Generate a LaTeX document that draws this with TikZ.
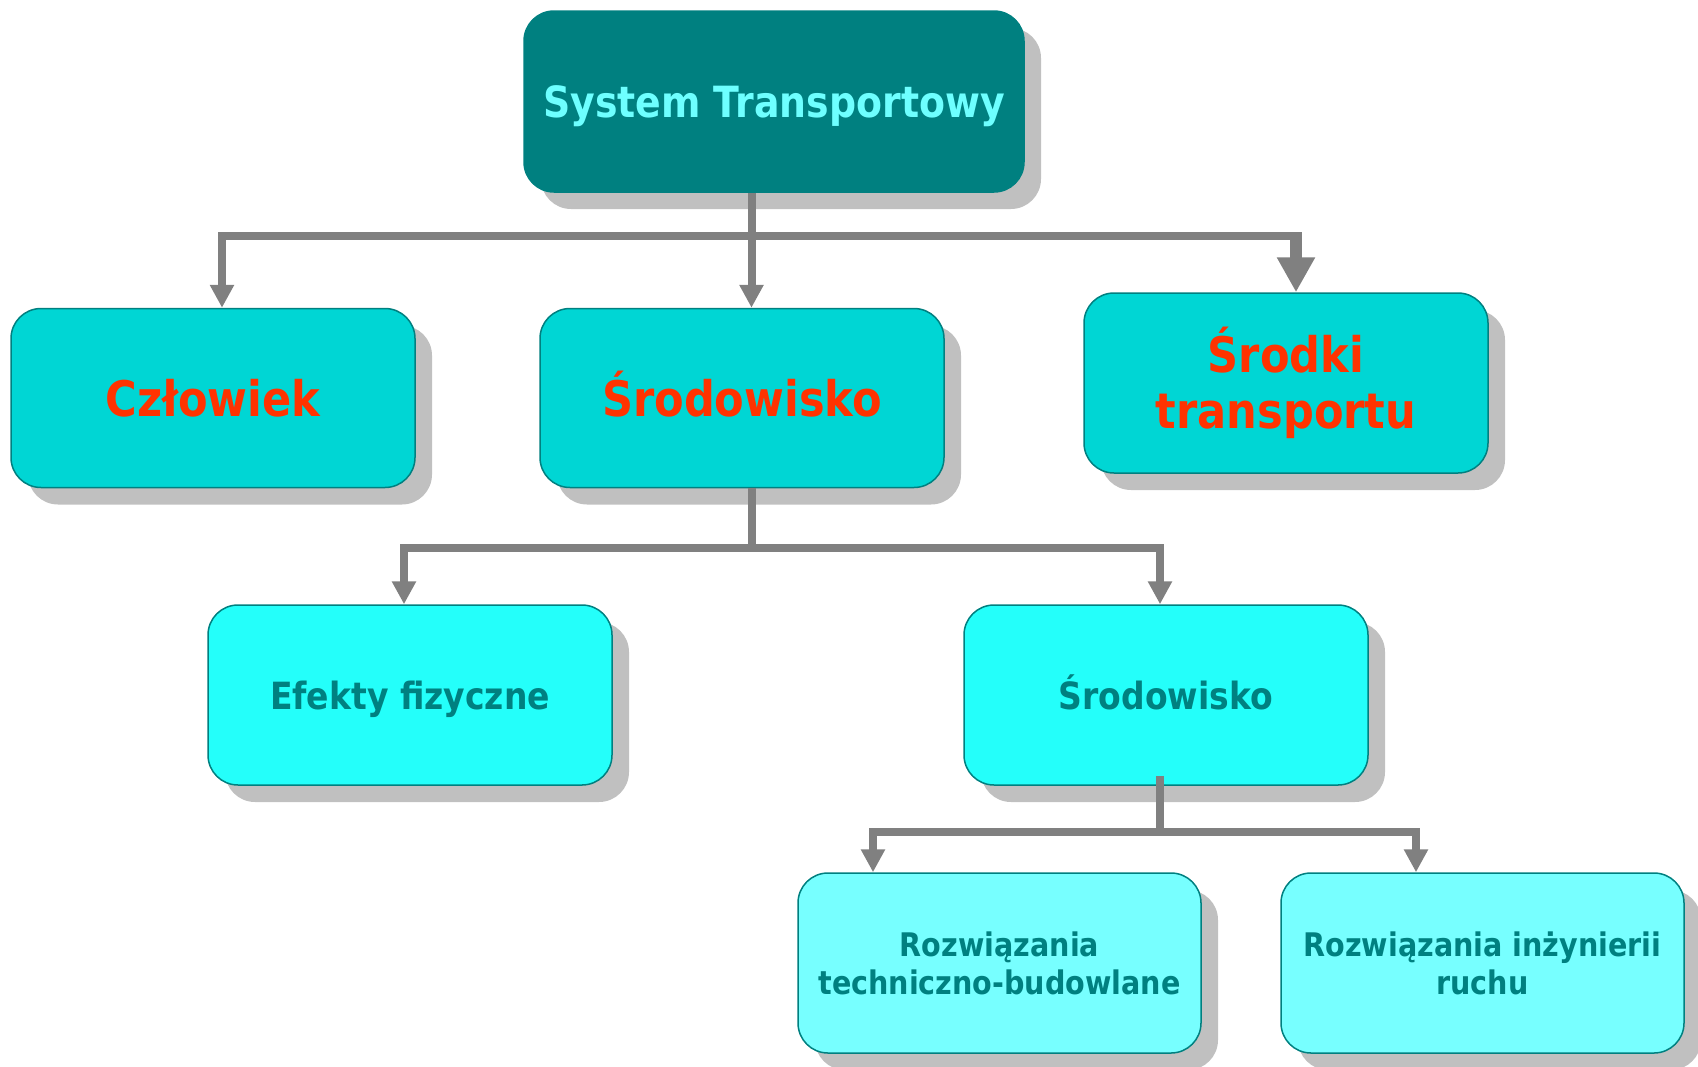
\documentclass[tikz,border=0pt]{standalone}
\usepackage{fontspec}
\setmainfont{DejaVu Sans}[FakeStretch=0.88]
\usetikzlibrary{arrows.meta,shadows}
\definecolor{teal0}{RGB}{0,128,128}
\definecolor{toptext}{RGB}{110,255,255}
\definecolor{fillA}{RGB}{0,214,212}
\definecolor{fillB}{RGB}{36,255,250}
\definecolor{fillC}{RGB}{119,255,255}
\definecolor{redtext}{RGB}{255,51,0}
\definecolor{shadowgray}{RGB}{192,192,192}
\definecolor{conncolor}{RGB}{128,128,128}
\tikzset{
  box/.style={rounded corners=30pt, draw=teal0, line width=1.5pt,
    minimum width=404pt, minimum height=179pt, inner sep=0pt, align=center,
    drop shadow={shadow xshift=17pt, shadow yshift=-17pt, fill=shadowgray, opacity=1}},
  topbox/.style={box, fill=teal0, minimum width=500pt, minimum height=181pt,
    text=toptext, font=\fontsize{43}{49}\selectfont\bfseries, text height=32.7pt, text depth=0pt},
  boxA/.style={box, fill=fillA, text=redtext, font=\fontsize{49}{56}\selectfont\bfseries},
  boxB/.style={box, fill=fillB, text=teal0, font=\fontsize{37.5}{43}\selectfont\bfseries,
    text height=28.5pt, text depth=0pt},
  boxC/.style={box, fill=fillC, text=teal0, font=\fontsize{32.5}{38}\selectfont\bfseries},
  oneA/.style={text height=37.2pt, text depth=0pt},
  conn/.style={draw=conncolor, line width=8pt},
  arrowtip/.style={-{Triangle[width=23pt,length=23pt]}},
  bigtip/.style={-{Triangle[width=36pt,length=35pt]}}
}
\begin{document}
\begin{tikzpicture}[x=1pt,y=-1pt]
\useasboundingbox (0,0) rectangle (1698,1066);
% boxes
\node[topbox] (top) at (774,101.5) {System Transportowy};
\node[boxA, oneA] (czl) at (213,398) {Człowiek};
\node[boxA, oneA] (env) at (742,398) {Środowisko};
\node[boxA, minimum height=180pt] (srodki) at (1286,383) {Środki\\transportu};
\node[boxB, minimum height=180pt] (efekty) at (410,695) {Efekty fizyczne};
\node[boxB, minimum height=180pt] (env2) at (1166,695) {Środowisko};
\node[boxC, minimum width=403pt, minimum height=180pt] (roz1) at (999.5,963) {Rozwiązania\\techniczno-budowlane};
\node[boxC, minimum width=403pt, minimum height=180pt] (roz2) at (1482.5,963) {Rozwiązania inżynierii\\ruchu};
% junctions
\coordinate (j1) at (751.5,236);
\coordinate (j1r) at (1296,236);
\coordinate (j2) at (751.5,548);
\coordinate (j3) at (1160,832);
% level 1 connectors
\draw[conn, arrowtip] (j1) -| ([xshift=9pt]czl.north);
\draw[conn] (j1) -- (j1r);
\draw[conn, line width=12pt, bigtip] ([yshift=4pt]j1r) -- ([xshift=10pt]srodki.north);
\draw[conn, arrowtip] (j1 |- top.south) -- (j1 |- env.north);
% level 2 connectors
\draw[conn] (j2 |- env.south) -- (j2);
\draw[conn, arrowtip] (j2) -| ([xshift=-6pt]efekty.north);
\draw[conn, arrowtip] (j2) -| ([xshift=-6pt]env2.north);
% level 3 connectors
\draw[conn] ([yshift=10pt]j3 |- env2.south) -- (j3);
\draw[conn, arrowtip] (j3) -| ([xshift=-126.5pt]roz1.north);
\draw[conn, arrowtip] (j3) -| ([xshift=-66.5pt]roz2.north);
\end{tikzpicture}
\end{document}
